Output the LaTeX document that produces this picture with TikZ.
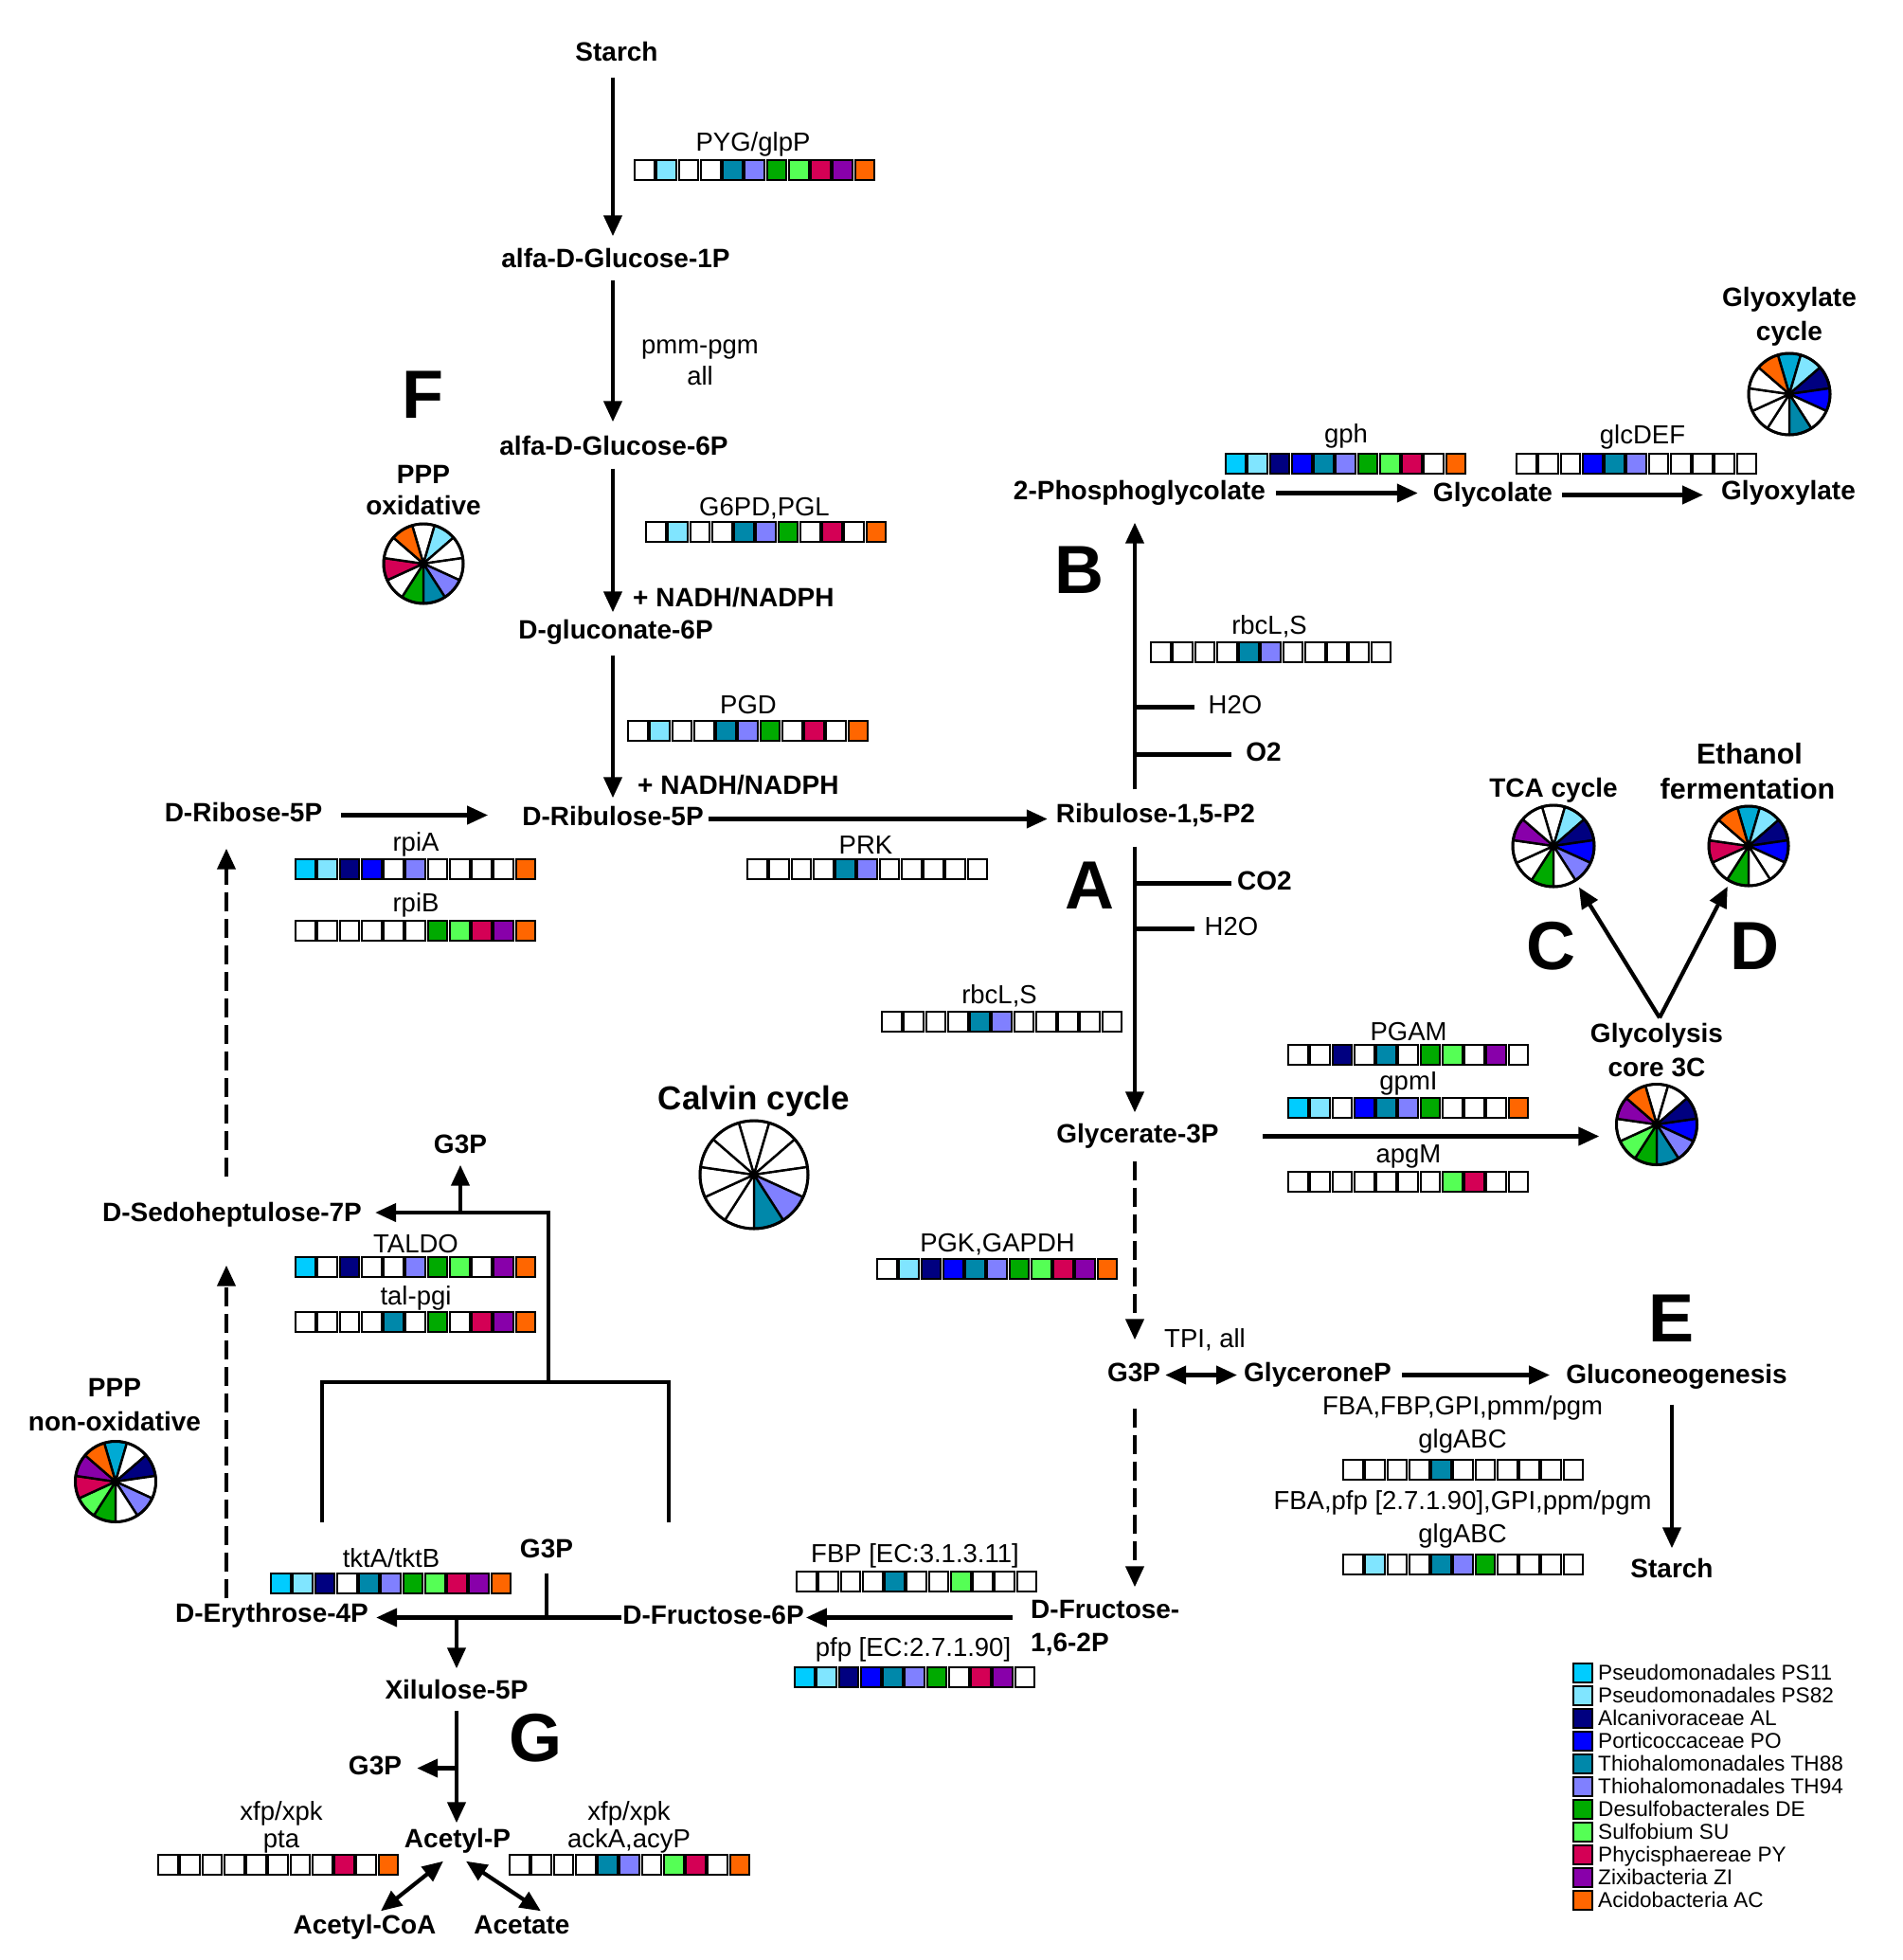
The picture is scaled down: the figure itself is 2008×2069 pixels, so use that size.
\documentclass[tikz,border=0pt]{standalone}
\usepackage{fontspec}
\setmainfont{Liberation Sans}
\usetikzlibrary{arrows.meta,calc}
\definecolor{c1}{HTML}{00CCFF}
\definecolor{c1p}{HTML}{00AAD4}
\definecolor{c2}{HTML}{80E5FF}
\definecolor{c3}{HTML}{000080}
\definecolor{c4}{HTML}{0000FF}
\definecolor{c5}{HTML}{0088AA}
\definecolor{c6}{HTML}{8080FF}
\definecolor{c7}{HTML}{00AA00}
\definecolor{c8}{HTML}{55FF55}
\definecolor{c9}{HTML}{D40055}
\definecolor{c10}{HTML}{8800AA}
\definecolor{c11}{HTML}{FF6600}
\colorlet{w}{white}
\newcommand\genestrip[3]{%
  \foreach \cc [count=\k from 0] in {#3} {%
    \filldraw[fill=\cc, draw=black, line width=2pt] ({#1+\k*23.25+1.2},{#2+1.2}) rectangle ++(20.6,20.6);
  }}
\newcommand\mypie[3]{%
  \begin{scope}[shift={(#1.center)}]
  \foreach \cc [count=\k from 0] in {#3} {%
    \pgfmathsetmacro\aS{90+180/11-\k*360/11}%
    \pgfmathsetmacro\aE{\aS-360/11}%
    \filldraw[fill=\cc, draw=black, line width=2.4pt, line join=round] (0pt,0pt) -- (\aS:#2pt) arc[start angle=\aS, end angle=\aE, radius=#2pt] -- cycle;
  }
  \draw[line width=3pt] (0pt,0pt) circle[radius=#2pt];
  \end{scope}}
\begin{document}
\begin{tikzpicture}[x=1pt,y=-1pt,
  met/.style={font={\fontsize{28}{30}\selectfont\bfseries}, inner sep=0pt, text height=20pt, text depth=6pt, yshift=-2.5pt},
  gen/.style={font={\fontsize{27.5}{30}\selectfont}, inner sep=0pt, text height=20pt, text depth=6pt, yshift=-2.5pt},
  big/.style={font={\fontsize{72}{72}\selectfont\bfseries}, inner sep=0pt},
  calv/.style={font={\fontsize{35}{38}\selectfont\bfseries}, inner sep=0pt, yshift=-2pt},
  ethf/.style={font={\fontsize{30.5}{32}\selectfont\bfseries}, inner sep=0pt, text height=22pt, text depth=6pt, yshift=-2.5pt},
  leg/.style={font={\fontsize{22.6}{24}\selectfont}, inner sep=0pt, anchor=west, text height=16pt, text depth=4.5pt, yshift=-2pt},
  arr/.style={line width=4.2pt, -{Triangle[length=22pt,width=19pt]}},
  darr/.style={line width=4.2pt, {Triangle[length=22pt,width=19pt]}-{Triangle[length=22pt,width=19pt]}},
  dsh/.style={dash pattern=on 20pt off 8pt},
  plain/.style={line width=4.2pt},
  piebox/.style={circle, inner sep=0pt, minimum size=#1}]
\useasboundingbox (0,0) rectangle (2008,2069);
\fill[white] (0,0) rectangle (2008,2069);

\coordinate (axF) at (647,0);
\coordinate (axA) at (1198,0);
\coordinate (axL) at (239,0);

% metabolites
\node[met] (starch1) at (651,55) {Starch};
\node[met] (g1p) at (650,273) {alfa-D-Glucose-1P};
\node[met] (g6p) at (648,471) {alfa-D-Glucose-6P};
\node[met] (gluc6p) at (650,665) {D-gluconate-6P};
\node[met, anchor=west] (nadh1) at (668,631) {+ NADH/NADPH};
\node[met, anchor=west] (nadh2) at (673,829) {+ NADH/NADPH};
\node[met] (rib5p) at (257,858) {D-Ribose-5P};
\node[met] (ribu5p) at (647,862) {D-Ribulose-5P};
\node[met] (ribp2) at (1220,859) {Ribulose-1,5-P2};
\node[met] (pglyc) at (1203,518) {2-Phosphoglycolate};
\node[met] (glycolate) at (1576,520) {Glycolate};
\node[met] (glyox) at (1888,518) {Glyoxylate};
\node[met] (o2) at (1334,794) {O2};
\node[met] (co2) at (1335,930) {CO2};
\node[met] (gly3p) at (1201,1197) {Glycerate-3P};
\node[met] (g3pA) at (1197,1449) {G3P};
\node[met] (glyceroneP) at (1391,1449) {GlyceroneP};
\node[met] (gluconeo) at (1770,1451) {Gluconeogenesis};
\node[met] (starch2) at (1765,1656) {Starch};
\node[met, anchor=west] (fru16a) at (1088,1699) {D-Fructose-};
\node[met, anchor=west] (fru16b) at (1088,1734) {1,6-2P};
\node[met] (fru6p) at (753,1705) {D-Fructose-6P};
\node[met] (ery4p) at (287,1703) {D-Erythrose-4P};
\node[met] (g3pB) at (577,1635) {G3P};
\node[met] (xil5p) at (482,1784) {Xilulose-5P};
\node[met] (g3pC) at (396,1864) {G3P};
\node[met] (acetylp) at (483,1941) {Acetyl-P};
\node[met] (acetylcoa) at (385,2032) {Acetyl-CoA};
\node[met] (acetate) at (551,2032) {Acetate};
\node[met] (sedo7p) at (245,1280) {D-Sedoheptulose-7P};
\node[met] (g3pD) at (486,1208) {G3P};

% pie titles
\node[met] (pppo1) at (447,501) {PPP};
\node[met] (pppo2) at (447,534) {oxidative};
\node[met] (glyc1) at (1889,314) {Glyoxylate};
\node[met] (glyc2) at (1889,350) {cycle};
\node[met] (tcaT) at (1640,832) {TCA cycle};
\node[ethf] (eth1) at (1847,796) {Ethanol};
\node[ethf] (eth2) at (1845,833) {fermentation};
\node[met] (gly1) at (1749,1091) {Glycolysis};
\node[met] (gly2) at (1749,1127) {core 3C};
\node[met] (pppn1) at (121,1465) {PPP};
\node[met] (pppn2) at (121,1501) {non-oxidative};
\node[calv] (calvT) at (796,1160) {Calvin cycle};

% big letters
\node[big] (letF) at (446,417) {F};
\node[big] (letB) at (1139,602) {B};
\node[big] (letA) at (1150,935) {A};
\node[big] (letC) at (1637,999) {C};
\node[big] (letD) at (1852,999) {D};
\node[big] (letE) at (1764,1392) {E};
\node[big] (letG) at (565,1835) {G};

% gene labels
\node[gen] (tPYG) at (795,150) {PYG/glpP};
\node[gen] (tpmm) at (739,364) {pmm-pgm};
\node[gen] (tall) at (739,397) {all};
\node[gen] (tG6PD) at (807,535) {G6PD,PGL};
\node[gen] (tgph) at (1421,458) {gph};
\node[gen] (tglc) at (1734,459) {glcDEF};
\node[gen] (trbc1) at (1340,660) {rbcL,S};
\node[gen] (h2oA) at (1304,744) {H2O};
\node[gen] (tPGD) at (790,744) {PGD};
\node[gen] (trpiA) at (439,889) {rpiA};
\node[gen] (trpiB) at (439,953) {rpiB};
\node[gen] (tPRK) at (914,892) {PRK};
\node[gen] (h2oB) at (1300,978) {H2O};
\node[gen] (trbc2) at (1055,1050) {rbcL,S};
\node[gen] (tPGAM) at (1487,1089) {PGAM};
\node[gen] (tgpmI) at (1487,1141) {gpmI};
\node[gen] (tapgM) at (1487,1218) {apgM};
\node[gen] (tPGK) at (1053,1312) {PGK,GAPDH};
\node[gen] (tTALDO) at (439,1313) {TALDO};
\node[gen] (ttal) at (439,1368) {tal-pgi};
\node[gen] (tTPI) at (1272,1413) {TPI, all};
\node[gen] (tFBA1) at (1544,1484) {FBA,FBP,GPI,pmm/pgm};
\node[gen] (tglg1) at (1544,1519) {glgABC};
\node[gen] (tFBA2) at (1544,1584) {FBA,pfp [2.7.1.90],GPI,ppm/pgm};
\node[gen] (tglg2) at (1544,1619) {glgABC};
\node[gen] (ttkt) at (413,1645) {tktA/tktB};
\node[gen] (tFBP) at (966,1640) {FBP [EC:3.1.3.11]};
\node[gen] (tpfp) at (964,1739) {pfp [EC:2.7.1.90]};
\node[gen] (txfp1) at (297,1912) {xfp/xpk};
\node[gen] (tpta) at (297,1941) {pta};
\node[gen] (txfp2) at (664,1912) {xfp/xpk};
\node[gen] (tack) at (664,1941) {ackA,acyP};

% gene strips
\genestrip{669}{168}{w,c2,w,w,c5,c6,c7,c8,c9,c10,c11}
\genestrip{1293}{478}{c1,c2,c3,c4,c5,c6,c7,c8,c9,w,c11}
\genestrip{1600}{478}{w,w,w,c4,c5,c6,w,w,w,w,w}
\genestrip{681}{550}{w,c2,w,w,c5,c6,c7,w,c9,w,c11}
\genestrip{1214}{677}{w,w,w,w,c5,c6,w,w,w,w,w}
\genestrip{662}{760}{w,c2,w,w,c5,c6,c7,w,c9,w,c11}
\genestrip{311}{906}{c1,c2,c3,c4,w,c6,w,w,w,w,c11}
\genestrip{788}{906}{w,w,w,w,c5,c6,w,w,w,w,w}
\genestrip{311}{971}{w,w,w,w,w,w,c7,c8,c9,c10,c11}
\genestrip{930}{1067}{w,w,w,w,c5,c6,w,w,w,w,w}
\genestrip{1359}{1102}{w,w,c3,w,c5,w,c7,c8,w,c10,w}
\genestrip{1359}{1158}{c1,c2,w,c4,c5,c6,c7,w,w,w,c11}
\genestrip{1359}{1236}{w,w,w,w,w,w,w,c8,c9,w,w}
\genestrip{925}{1328}{w,c2,c3,c4,c5,c6,c7,c8,c9,c10,c11}
\genestrip{311}{1326}{c1,w,c3,w,w,c6,c7,c8,w,c10,c11}
\genestrip{311}{1384}{w,w,w,w,c5,w,c7,w,c9,c10,c11}
\genestrip{1417}{1540}{w,w,w,w,c5,w,w,w,w,w,w}
\genestrip{1417}{1640}{w,c2,w,w,c5,c6,c7,w,w,w,w}
\genestrip{285}{1660}{c1,c2,c3,w,c5,c6,c7,c8,c9,c10,c11}
\genestrip{840}{1658}{w,w,w,w,c5,w,w,c8,w,w,w}
\genestrip{838}{1759}{c1,c2,c3,c4,c5,c6,c7,w,c9,c10,w}
\genestrip{166}{1957}{w,w,w,w,w,w,w,w,c9,w,c11}
\genestrip{537}{1957}{w,w,w,w,c5,c6,w,c8,c9,w,c11}

% pies
\node[piebox=86pt] (pieGlyox) at (1889,416) {};
\node[piebox=84pt] (piePPPo) at (447,595) {};
\node[piebox=86pt] (pieTCA) at (1640,893) {};
\node[piebox=84pt] (pieEth) at (1846,893) {};
\node[piebox=114pt] (pieCalv) at (796,1240) {};
\node[piebox=85pt] (pieGly) at (1749,1187) {};
\node[piebox=85pt] (piePPPn) at (122,1564) {};
\mypie{pieGlyox}{43}{c1p,c2,c3,c4,w,c5,w,w,w,w,c11}
\mypie{piePPPo}{42}{w,c2,w,w,c6,c5,c7,w,c9,w,c11}
\mypie{pieTCA}{43}{w,c2,c3,c4,c6,w,c7,w,w,c10,w}
\mypie{pieEth}{42}{c1p,c2,c3,c4,w,w,c7,w,c9,w,c11}
\mypie{pieCalv}{57}{w,w,w,w,c6,c5,w,w,w,w,w}
\mypie{pieGly}{42.5}{w,w,c3,c4,c6,c5,c7,c8,w,c10,c11}
\mypie{piePPPn}{42.5}{c1p,w,c3,w,c6,w,c7,c8,c9,c10,c11}

% connectors
\draw[arr, shorten <=11pt, shorten >=13pt] (starch1.south -| axF) -- (g1p.north -| axF);
\draw[arr, shorten <=7pt, shorten >=15pt] (g1p.south -| axF) -- (g6p.north -| axF);
\draw[arr, shorten <=8pt, shorten >=8pt] (g6p.south -| axF) -- (gluc6p.north -| axF);
\draw[arr, shorten <=11pt, shorten >=9pt] (gluc6p.south -| axF) -- (ribu5p.north -| axF);
\draw[arr, shorten <=20pt, shorten >=36pt] (rib5p.east) -- (rib5p.east -| ribu5p.west);
\draw[arr, shorten <=5pt, shorten >=9pt] (ribu5p.east) -- (ribu5p.east -| ribp2.west);
\draw[arr, shorten <=15pt, shorten >=18pt] (ribp2.north -| axA) -- (pglyc.south -| axA);
\draw[arr, shorten <=11pt, shorten >=16pt] (pglyc.east) -- (pglyc.east -| glycolate.west);
\draw[arr, shorten <=10pt, shorten >=19pt] (glycolate.east) -- (glycolate.east -| glyox.west);
\draw[arr, shorten <=19pt, shorten >=12pt] (ribp2.south -| axA) -- (gly3p.north -| axA);
\draw[arr, shorten <=46pt, shorten >=18pt] (gly3p.east) -- (gly3p.east -| pieGly.west);
\draw[arr, dsh, shorten <=13pt, shorten >=24pt] (gly3p.south -| axA) -- (g3pA.north -| axA);
\draw[darr, shorten <=5pt, shorten >=7pt] (g3pA.east) -- (g3pA.east -| glyceroneP.west);
\draw[arr, shorten <=11pt, shorten >=17pt] (glyceroneP.east) -- (glyceroneP.east -| gluconeo.west);
\draw[arr, shorten <=16pt, shorten >=11pt] (starch2.north |- gluconeo.south) -- (starch2.north);
\draw[arr, dsh, shorten <=22pt, shorten >=13pt] (g3pA.south -| axA) -- (fru16a.north -| axA);
\draw[arr, shorten <=19pt, shorten >=2pt] (fru16a.west |- fru6p.east) -- (fru6p.east);
\draw[arr, shorten <=1pt, shorten >=8pt] (fru6p.west) -- (fru6p.west -| ery4p.east);
\draw[plain, shorten <=10pt] (g3pB.south) -- (g3pB.south |- fru6p.west);
\draw[arr, shorten >=12pt] (xil5p.north |- fru6p.west) -- (xil5p.north);
\draw[arr, shorten <=6pt, shorten >=6pt] (xil5p.south) -- (xil5p.south |- acetylp.north);
\draw[arr, shorten >=16pt] (g3pC.east -| xil5p.south) -- (g3pC.east);
\draw[darr] ($(acetylp.south)+(-15,8)$) -- ($(acetylcoa.north)+(17,-4)$);
\draw[darr] ($(acetylp.south)+(9,8)$) -- ($(acetate.north)+(20,-4)$);
\draw[arr, dsh, shorten <=5pt, shorten >=40pt] (ery4p.north -| axL) -- (sedo7p.south -| axL);
\draw[arr, dsh, shorten <=27pt, shorten >=22pt] (sedo7p.north -| axL) -- (rib5p.south -| axL);

% side reactants
\draw[plain, shorten >=15pt] (h2oA.west -| axA) -- (h2oA.west);
\draw[plain, shorten >=15pt] (o2.west -| axA) -- (o2.west);
\draw[plain, shorten >=6pt] (co2.west -| axA) -- (co2.west);
\draw[plain, shorten >=11pt] (h2oB.west -| axA) -- (h2oB.west);

% transketolase / transaldolase bracket
\coordinate (brkTop) at (579,1280);
\draw[plain] (340,1607) -- (340,1459) -- (706,1459) -- (706,1607);
\draw[arr, shorten >=14pt] (579,1459) -- (brkTop) -- (brkTop -| sedo7p.east);
\draw[arr, shorten >=6pt] (g3pD.south |- brkTop) -- (g3pD.south);

% glycolysis branches
\coordinate (glyStart) at ($(gly1.north)+(3,-6)$);
\draw[arr, shorten >=8pt] (glyStart) -- (pieTCA);
\draw[arr, shorten >=6pt] (glyStart) -- (pieEth);

% legend
\foreach \cc/\nm [count=\k from 0] in {c1/Pseudomonadales PS11, c2/Pseudomonadales PS82, c3/Alcanivoraceae AL, c4/Porticoccaceae PO, c5/Thiohalomonadales TH88, c6/Thiohalomonadales TH94, c7/Desulfobacterales DE, c8/Sulfobium SU, c9/Phycisphaereae PY, c10/Zixibacteria ZI, c11/Acidobacteria AC} {
  \filldraw[fill=\cc, draw=black, line width=2pt] (1661,{1756+24*\k}) rectangle ++(20,20);
  \node[leg] (leg\k) at (1687,{1766+24*\k}) {\nm};
}
\end{tikzpicture}
\end{document}
